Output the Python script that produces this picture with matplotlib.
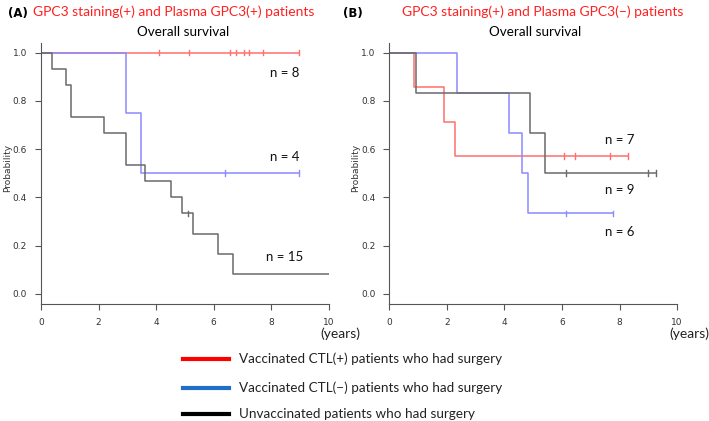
import matplotlib.pyplot as plt
from matplotlib.lines import Line2D

plt.rcParams['font.family'] = ['DejaVu Sans']

# ---------------------------------------------
# Kaplan-Meier step data (times in years, survival prob.)
# ---------------------------------------------
# Panel A: GPC3 staining(+) and Plasma GPC3(+)
a_red_t = [0, 8.96]
a_red_s = [1.0, 1.0]
a_red_cens = [4.09, 5.14, 6.55, 6.76, 7.04, 7.22, 7.71, 8.96]

a_blue_t = [0, 2.96, 3.46, 8.96]
a_blue_s = [1.0, 0.75, 0.5, 0.5]
a_blue_cens = [6.41, 8.96]

a_black_t = [0, 0.39, 0.88, 1.05, 2.19, 2.96, 3.61, 4.53, 4.91, 5.28, 6.15, 6.67, 10.0]
a_black_s = [1.0, 0.933, 0.867, 0.733, 0.667, 0.533, 0.467, 0.4, 0.333, 0.25, 0.167, 0.083, 0.083]
a_black_cens = [5.10]

# Panel B: GPC3 staining(+) and Plasma GPC3(-)
b_red_t = [0, 0.86, 1.91, 2.28, 8.29]
b_red_s = [1.0, 0.857, 0.714, 0.571, 0.571]
b_red_cens = [6.07, 6.44, 7.68, 8.29]

b_blue_t = [0, 2.34, 4.17, 4.60, 4.81, 7.79]
b_blue_s = [1.0, 0.833, 0.667, 0.5, 0.333, 0.333]
b_blue_cens = [6.13, 7.79]

b_black_t = [0, 0.93, 4.88, 5.41, 9.27]
b_black_s = [1.0, 0.833, 0.667, 0.5, 0.5]
b_black_cens = [6.13, 9.0, 9.27]

a_n_labels = ["n = 8", "n = 4", "n = 15"]
a_n_pos = [(8.46, 0.915), (8.46, 0.568), (8.48, 0.153)]
b_n_labels = ["n = 7", "n = 9", "n = 6"]
b_n_pos = [(8.0, 0.638), (8.0, 0.431), (8.0, 0.257)]

legend_labels = ["Vaccinated CTL(+) patients who had surgery",
                 "Vaccinated CTL(\u2212) patients who had surgery",
                 "Unvaccinated patients who had surgery"]

RED = "#ff6f6f"
BLUE = "#8a8aff"
BLACK = "#6a6a6a"
AXIS = "#555555"
TXT_FONT = ["Lato", "DejaVu Sans"]


def step_value(t_list, s_list, x):
    val = s_list[0]
    for t, s in zip(t_list, s_list):
        if t <= x:
            val = s
    return val


def km(ax, t, s, cens, color):
    ax.step(t, s, where="post", color=color, lw=1.1)
    for c in cens:
        y = step_value(t, s, c)
        ax.plot([c, c], [y - 0.012, y + 0.012], color=color, lw=1.0)


def style_axes(ax):
    ax.set_xlim(0, 10)
    ax.set_ylim(-0.042, 1.04)
    for side in ["top", "right"]:
        ax.spines[side].set_visible(False)
    for side in ["left", "bottom"]:
        ax.spines[side].set_color(AXIS)
        ax.spines[side].set_linewidth(0.8)
    ax.set_xticks([0, 2, 4, 6, 8, 10])
    ax.set_yticks([0.0, 0.2, 0.4, 0.6, 0.8, 1.0])
    ax.set_yticklabels(["0.0", "0.2", "0.4", "0.6", "0.8", "1.0"])
    ax.tick_params(axis="both", colors=AXIS, labelcolor="#333333",
                   labelsize=6.5, length=4, width=0.8, pad=6)
    ax.set_ylabel("Probability", fontsize=6.5, color="#333333", labelpad=4)
    ax.yaxis.set_label_coords(-0.1, 0.52)


fig = plt.figure(figsize=(7.09, 4.21), dpi=100)
axA = fig.add_axes([0.0578, 0.278, 0.406, 0.62])
axB = fig.add_axes([0.549, 0.278, 0.406, 0.62])

km(axA, a_red_t, a_red_s, a_red_cens, RED)
km(axA, a_blue_t, a_blue_s, a_blue_cens, BLUE)
km(axA, a_black_t, a_black_s, a_black_cens, BLACK)
km(axB, b_red_t, b_red_s, b_red_cens, RED)
km(axB, b_blue_t, b_blue_s, b_blue_cens, BLUE)
km(axB, b_black_t, b_black_s, b_black_cens, BLACK)

for ax, labels, pos in [(axA, a_n_labels, a_n_pos), (axB, b_n_labels, b_n_pos)]:
    style_axes(ax)
    for lab, (x, y) in zip(labels, pos):
        ax.text(x, y, lab, ha="center", va="center", fontsize=9.5,
                family=TXT_FONT, color="#111111")

# panel headings
fig.text(8 / 709, 1 - 13 / 421, "(A)", fontsize=8.5, fontweight="bold",
         ha="left", va="center")
fig.text(174 / 709, 1 - 12 / 421, "GPC3 staining(+) and Plasma GPC3(+) patients",
         fontsize=10, color="#ff2020", family=TXT_FONT, ha="center", va="center")
fig.text(183 / 709, 1 - 32 / 421, "Overall survival", fontsize=9.7,
         family=TXT_FONT, ha="center", va="center")
fig.text(343 / 709, 1 - 13 / 421, "(B)", fontsize=8.5, fontweight="bold",
         ha="left", va="center")
fig.text(543 / 709, 1 - 12 / 421, "GPC3 staining(+) and Plasma GPC3(\u2212) patients",
         fontsize=10, color="#ff2020", family=TXT_FONT, ha="center", va="center")
fig.text(535 / 709, 1 - 32 / 421, "Overall survival", fontsize=9.7,
         family=TXT_FONT, ha="center", va="center")

# "(years)" under the last tick
fig.text(340 / 709, 1 - 334 / 421, "(years)", fontsize=10, family=TXT_FONT,
         ha="center", va="center", color="#222222")
fig.text(689 / 709, 1 - 334 / 421, "(years)", fontsize=10, family=TXT_FONT,
         ha="center", va="center", color="#222222")

# legend drawn manually below the panels
leg_colors = ["#ff0000", "#1f6fc8", "#000000"]
leg_y = [359, 388, 414]
for lab, col, y in zip(legend_labels, leg_colors, leg_y):
    fig.add_artist(Line2D([183 / 709, 229 / 709], [1 - y / 421, 1 - y / 421],
                          color=col, lw=3))
    fig.text(239 / 709, 1 - y / 421, lab, fontsize=9.7, family=TXT_FONT,
             ha="left", va="center", color="#222222")

fig.savefig("out.png", dpi=100)
